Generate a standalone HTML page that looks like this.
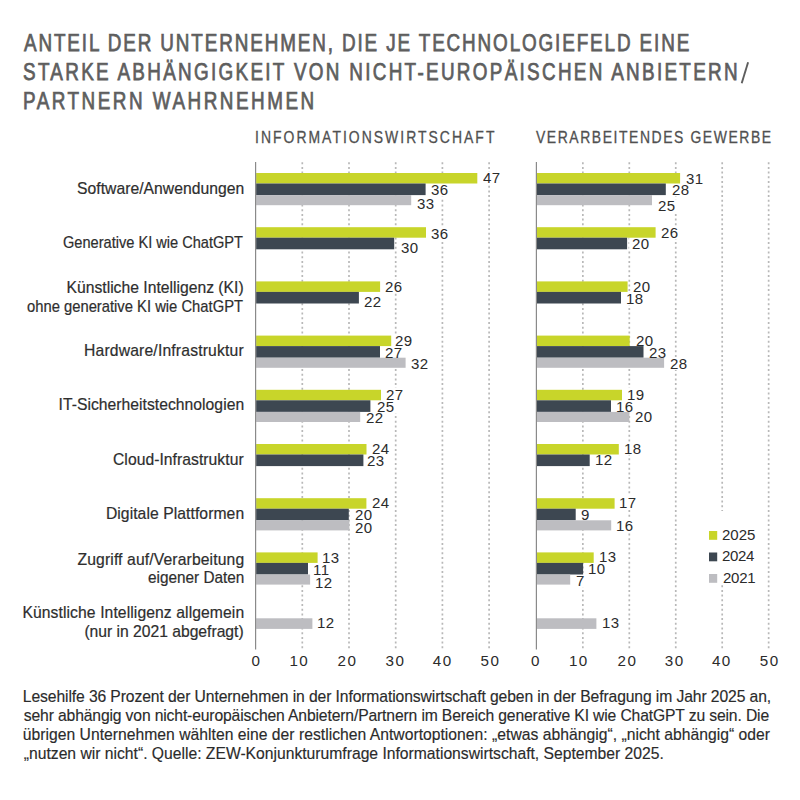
<!DOCTYPE html><html><head><meta charset="utf-8"><style>
html,body{margin:0;padding:0;background:#fff;}
body{width:800px;height:800px;position:relative;overflow:hidden;font-family:"Liberation Sans", sans-serif;}
.t{position:absolute;white-space:nowrap;}
</style></head><body>
<svg width="800" height="800" style="position:absolute;left:0;top:0">
<line x1="302.30" y1="162.2" x2="302.30" y2="650" stroke="#b8b8b8" stroke-width="1.7" stroke-dasharray="2 2.7"/>
<line x1="349.00" y1="162.2" x2="349.00" y2="650" stroke="#b8b8b8" stroke-width="1.7" stroke-dasharray="2 2.7"/>
<line x1="395.70" y1="162.2" x2="395.70" y2="650" stroke="#b8b8b8" stroke-width="1.7" stroke-dasharray="2 2.7"/>
<line x1="442.40" y1="162.2" x2="442.40" y2="650" stroke="#b8b8b8" stroke-width="1.7" stroke-dasharray="2 2.7"/>
<line x1="489.10" y1="162.2" x2="489.10" y2="650" stroke="#b8b8b8" stroke-width="1.7" stroke-dasharray="2 2.7"/>
<line x1="582.85" y1="162.2" x2="582.85" y2="650" stroke="#b8b8b8" stroke-width="1.7" stroke-dasharray="2 2.7"/>
<line x1="629.30" y1="162.2" x2="629.30" y2="650" stroke="#b8b8b8" stroke-width="1.7" stroke-dasharray="2 2.7"/>
<line x1="675.75" y1="162.2" x2="675.75" y2="650" stroke="#b8b8b8" stroke-width="1.7" stroke-dasharray="2 2.7"/>
<line x1="722.20" y1="162.2" x2="722.20" y2="650" stroke="#b8b8b8" stroke-width="1.7" stroke-dasharray="2 2.7"/>
<line x1="768.65" y1="162.2" x2="768.65" y2="650" stroke="#b8b8b8" stroke-width="1.7" stroke-dasharray="2 2.7"/>
<rect x="480.50" y="171.50" width="23.40" height="13" fill="#fff"/>
<rect x="428.90" y="183.70" width="23.40" height="13" fill="#fff"/>
<rect x="414.90" y="196.90" width="23.40" height="13" fill="#fff"/>
<rect x="428.80" y="226.90" width="23.40" height="13" fill="#fff"/>
<rect x="398.50" y="241.70" width="23.40" height="13" fill="#fff"/>
<rect x="382.70" y="280.00" width="23.40" height="13" fill="#fff"/>
<rect x="362.00" y="295.40" width="23.40" height="13" fill="#fff"/>
<rect x="392.90" y="334.10" width="23.40" height="13" fill="#fff"/>
<rect x="382.70" y="346.50" width="23.40" height="13" fill="#fff"/>
<rect x="408.80" y="357.00" width="23.40" height="13" fill="#fff"/>
<rect x="383.30" y="388.00" width="23.40" height="13" fill="#fff"/>
<rect x="374.20" y="400.00" width="23.40" height="13" fill="#fff"/>
<rect x="363.50" y="411.20" width="23.40" height="13" fill="#fff"/>
<rect x="369.10" y="442.00" width="23.40" height="13" fill="#fff"/>
<rect x="364.80" y="454.20" width="23.40" height="13" fill="#fff"/>
<rect x="369.80" y="496.30" width="23.40" height="13" fill="#fff"/>
<rect x="352.20" y="508.50" width="23.40" height="13" fill="#fff"/>
<rect x="352.20" y="521.70" width="23.40" height="13" fill="#fff"/>
<rect x="320.30" y="551.00" width="23.40" height="13" fill="#fff"/>
<rect x="311.80" y="563.20" width="23.40" height="13" fill="#fff"/>
<rect x="313.30" y="576.70" width="23.40" height="13" fill="#fff"/>
<rect x="315.50" y="616.30" width="23.40" height="13" fill="#fff"/>
<rect x="683.90" y="172.00" width="23.40" height="13" fill="#fff"/>
<rect x="669.60" y="183.50" width="23.40" height="13" fill="#fff"/>
<rect x="655.80" y="199.70" width="23.40" height="13" fill="#fff"/>
<rect x="658.60" y="226.30" width="23.40" height="13" fill="#fff"/>
<rect x="629.20" y="237.60" width="23.40" height="13" fill="#fff"/>
<rect x="631.00" y="280.00" width="23.40" height="13" fill="#fff"/>
<rect x="624.60" y="292.10" width="23.40" height="13" fill="#fff"/>
<rect x="633.10" y="334.10" width="23.40" height="13" fill="#fff"/>
<rect x="646.70" y="345.90" width="23.40" height="13" fill="#fff"/>
<rect x="667.50" y="357.00" width="23.40" height="13" fill="#fff"/>
<rect x="625.20" y="388.00" width="23.40" height="13" fill="#fff"/>
<rect x="614.50" y="399.80" width="23.40" height="13" fill="#fff"/>
<rect x="632.80" y="410.50" width="23.40" height="13" fill="#fff"/>
<rect x="622.20" y="441.80" width="23.40" height="13" fill="#fff"/>
<rect x="593.30" y="453.70" width="23.40" height="13" fill="#fff"/>
<rect x="617.30" y="495.90" width="23.40" height="13" fill="#fff"/>
<rect x="578.40" y="508.50" width="15.20" height="13" fill="#fff"/>
<rect x="614.50" y="518.90" width="23.40" height="13" fill="#fff"/>
<rect x="597.10" y="550.40" width="23.40" height="13" fill="#fff"/>
<rect x="586.50" y="561.80" width="23.40" height="13" fill="#fff"/>
<rect x="573.30" y="574.50" width="15.20" height="13" fill="#fff"/>
<rect x="600.20" y="616.00" width="23.40" height="13" fill="#fff"/>
<rect x="256.10" y="173.00" width="221.20" height="10.50" fill="#c8d52a"/>
<rect x="256.10" y="183.50" width="169.50" height="11.60" fill="#3d4751"/>
<rect x="256.10" y="195.10" width="155.10" height="10.10" fill="#bdbdc1"/>
<rect x="256.10" y="227.20" width="169.90" height="10.50" fill="#c8d52a"/>
<rect x="256.10" y="237.70" width="138.10" height="11.60" fill="#3d4751"/>
<rect x="256.10" y="281.40" width="124.00" height="10.50" fill="#c8d52a"/>
<rect x="256.10" y="291.90" width="102.80" height="11.60" fill="#3d4751"/>
<rect x="256.10" y="335.60" width="135.10" height="10.50" fill="#c8d52a"/>
<rect x="256.10" y="346.10" width="123.90" height="11.60" fill="#3d4751"/>
<rect x="256.10" y="357.70" width="149.50" height="10.10" fill="#bdbdc1"/>
<rect x="256.10" y="389.80" width="124.90" height="10.50" fill="#c8d52a"/>
<rect x="256.10" y="400.30" width="114.30" height="11.60" fill="#3d4751"/>
<rect x="256.10" y="411.90" width="104.10" height="10.10" fill="#bdbdc1"/>
<rect x="256.10" y="444.00" width="110.40" height="10.50" fill="#c8d52a"/>
<rect x="256.10" y="454.50" width="107.30" height="11.60" fill="#3d4751"/>
<rect x="256.10" y="498.20" width="110.30" height="10.50" fill="#c8d52a"/>
<rect x="256.10" y="508.70" width="92.70" height="11.60" fill="#3d4751"/>
<rect x="256.10" y="520.30" width="93.30" height="10.10" fill="#bdbdc1"/>
<rect x="256.10" y="552.40" width="61.50" height="10.50" fill="#c8d52a"/>
<rect x="256.10" y="562.90" width="51.90" height="11.60" fill="#3d4751"/>
<rect x="256.10" y="574.50" width="54.00" height="10.10" fill="#bdbdc1"/>
<rect x="256.10" y="618.30" width="56.30" height="10.60" fill="#bdbdc1"/>
<rect x="536.90" y="173.00" width="143.20" height="10.50" fill="#c8d52a"/>
<rect x="536.90" y="183.50" width="128.90" height="11.60" fill="#3d4751"/>
<rect x="536.90" y="195.10" width="115.10" height="10.10" fill="#bdbdc1"/>
<rect x="536.90" y="227.20" width="118.70" height="10.50" fill="#c8d52a"/>
<rect x="536.90" y="237.70" width="90.20" height="11.60" fill="#3d4751"/>
<rect x="536.90" y="281.40" width="90.70" height="10.50" fill="#c8d52a"/>
<rect x="536.90" y="291.90" width="84.10" height="11.60" fill="#3d4751"/>
<rect x="536.90" y="335.60" width="92.80" height="10.50" fill="#c8d52a"/>
<rect x="536.90" y="346.10" width="106.60" height="11.60" fill="#3d4751"/>
<rect x="536.90" y="357.70" width="127.20" height="10.10" fill="#bdbdc1"/>
<rect x="536.90" y="389.80" width="85.10" height="10.50" fill="#c8d52a"/>
<rect x="536.90" y="400.30" width="74.10" height="11.60" fill="#3d4751"/>
<rect x="536.90" y="411.90" width="92.50" height="10.10" fill="#bdbdc1"/>
<rect x="536.90" y="444.00" width="81.90" height="10.50" fill="#c8d52a"/>
<rect x="536.90" y="454.50" width="52.80" height="11.60" fill="#3d4751"/>
<rect x="536.90" y="498.20" width="77.70" height="10.50" fill="#c8d52a"/>
<rect x="536.90" y="508.70" width="38.80" height="11.60" fill="#3d4751"/>
<rect x="536.90" y="520.30" width="74.30" height="10.10" fill="#bdbdc1"/>
<rect x="536.90" y="552.40" width="56.80" height="10.50" fill="#c8d52a"/>
<rect x="536.90" y="562.90" width="46.20" height="11.60" fill="#3d4751"/>
<rect x="536.90" y="574.50" width="33.30" height="10.10" fill="#bdbdc1"/>
<rect x="536.90" y="618.30" width="59.50" height="10.60" fill="#bdbdc1"/>
<line x1="255.60" y1="162" x2="255.60" y2="649.5" stroke="#8a8a8a" stroke-width="1.2"/>
<line x1="536.40" y1="162" x2="536.40" y2="649.5" stroke="#8a8a8a" stroke-width="1.2"/>
<line x1="741.7" y1="83.2" x2="748.1" y2="62.3" stroke="#5e5e5e" stroke-width="1.9"/>
<rect x="704" y="511" width="58" height="72" fill="#fff"/>
<rect x="709" y="531.00" width="8.2" height="8.8" fill="#c8d52a"/>
<rect x="709" y="552.50" width="8.2" height="8.8" fill="#3d4751"/>
<rect x="709" y="574.00" width="8.2" height="8.8" fill="#bdbdc1"/>
</svg>
<div class="t" id="t1" style="left:23.50px;top:32.33px;font-size:23.0px;line-height:23.0px;color:#5e5e5e;letter-spacing:2.295px;transform:scaleX(0.82);transform-origin:0 0;-webkit-text-stroke:0.75px #5e5e5e;">ANTEIL DER UNTERNEHMEN, DIE JE TECHNOLOGIEFELD EINE</div>
<div class="t" id="t2" style="left:22.68px;top:61.33px;font-size:23.0px;line-height:23.0px;color:#5e5e5e;letter-spacing:2.821px;transform:scaleX(0.82);transform-origin:0 0;-webkit-text-stroke:0.75px #5e5e5e;">STARKE ABHÄNGIGKEIT VON NICHT-EUROPÄISCHEN ANBIETERN</div>
<div class="t" id="t3" style="left:22.68px;top:90.03px;font-size:23.0px;line-height:23.0px;color:#5e5e5e;letter-spacing:3.066px;transform:scaleX(0.82);transform-origin:0 0;-webkit-text-stroke:0.75px #5e5e5e;">PARTNERN WAHRNEHMEN</div>
<div class="t" id="s1" style="left:255.41px;top:129.55px;font-size:16.6px;line-height:16.6px;color:#505050;letter-spacing:2.407px;transform:scaleX(0.84);transform-origin:0 0;-webkit-text-stroke:0.3px #505050;">INFORMATIONSWIRTSCHAFT</div>
<div class="t" id="s2" style="left:536.25px;top:129.55px;font-size:16.6px;line-height:16.6px;color:#505050;letter-spacing:1.865px;transform:scaleX(0.84);transform-origin:0 0;-webkit-text-stroke:0.3px #505050;">VERARBEITENDES GEWERBE</div>
<div class="t" id="c1" style="left:77.00px;top:181.06px;font-size:15.7px;line-height:15.7px;color:#2e2e2e;letter-spacing:0.029px;-webkit-text-stroke:0.2px #2e2e2e;">Software/Anwendungen</div>
<div class="t" id="c2" style="left:63.00px;top:234.81px;font-size:15.7px;line-height:15.7px;color:#2e2e2e;letter-spacing:0.000px;transform:scaleX(0.9300130675601987);transform-origin:0 0;-webkit-text-stroke:0.2px #2e2e2e;">Generative KI wie ChatGPT</div>
<div class="t" id="c3a" style="left:66.50px;top:280.31px;font-size:15.7px;line-height:15.7px;color:#2e2e2e;letter-spacing:0.005px;-webkit-text-stroke:0.2px #2e2e2e;">Künstliche Intelligenz (KI)</div>
<div class="t" id="c3b" style="left:27.00px;top:298.56px;font-size:15.7px;line-height:15.7px;color:#2e2e2e;letter-spacing:0.000px;transform:scaleX(0.9418719688165917);transform-origin:0 0;-webkit-text-stroke:0.2px #2e2e2e;">ohne generative KI wie ChatGPT</div>
<div class="t" id="c4" style="left:84.00px;top:343.06px;font-size:15.7px;line-height:15.7px;color:#2e2e2e;letter-spacing:0.170px;-webkit-text-stroke:0.2px #2e2e2e;">Hardware/Infrastruktur</div>
<div class="t" id="c5" style="left:58.50px;top:397.31px;font-size:15.7px;line-height:15.7px;color:#2e2e2e;letter-spacing:0.030px;-webkit-text-stroke:0.2px #2e2e2e;">IT-Sicherheitstechnologien</div>
<div class="t" id="c6" style="left:113.00px;top:451.56px;font-size:15.7px;line-height:15.7px;color:#2e2e2e;letter-spacing:0.040px;-webkit-text-stroke:0.2px #2e2e2e;">Cloud-Infrastruktur</div>
<div class="t" id="c7" style="left:105.90px;top:506.06px;font-size:15.7px;line-height:15.7px;color:#2e2e2e;letter-spacing:0.070px;-webkit-text-stroke:0.2px #2e2e2e;">Digitale Plattformen</div>
<div class="t" id="c8a" style="left:77.50px;top:552.31px;font-size:15.7px;line-height:15.7px;color:#2e2e2e;letter-spacing:0.129px;-webkit-text-stroke:0.2px #2e2e2e;">Zugriff auf/Verarbeitung</div>
<div class="t" id="c8b" style="left:147.80px;top:570.41px;font-size:15.7px;line-height:15.7px;color:#2e2e2e;letter-spacing:0.000px;transform:scaleX(0.9772274389268101);transform-origin:0 0;-webkit-text-stroke:0.2px #2e2e2e;">eigener Daten</div>
<div class="t" id="c9a" style="left:22.40px;top:605.41px;font-size:15.7px;line-height:15.7px;color:#2e2e2e;letter-spacing:0.092px;-webkit-text-stroke:0.2px #2e2e2e;">Künstliche Intelligenz allgemein</div>
<div class="t" id="c9b" style="left:84.40px;top:623.56px;font-size:15.7px;line-height:15.7px;color:#2e2e2e;letter-spacing:-0.017px;-webkit-text-stroke:0.2px #2e2e2e;">(nur in 2021 abgefragt)</div>
<div class="t" id="f1" style="left:22.80px;top:689.21px;font-size:15.7px;line-height:15.7px;color:#2b2b2b;letter-spacing:-0.107px;-webkit-text-stroke:0.15px #2b2b2b;">Lesehilfe 36 Prozent der Unternehmen in der Informationswirtschaft geben in der Befragung im Jahr 2025 an,</div>
<div class="t" id="f2" style="left:23.80px;top:707.91px;font-size:15.7px;line-height:15.7px;color:#2b2b2b;letter-spacing:-0.142px;-webkit-text-stroke:0.15px #2b2b2b;">sehr abhängig von nicht-europäischen Anbietern/Partnern im Bereich generative KI wie ChatGPT zu sein. Die</div>
<div class="t" id="f3" style="left:22.80px;top:727.11px;font-size:15.7px;line-height:15.7px;color:#2b2b2b;letter-spacing:0.015px;-webkit-text-stroke:0.15px #2b2b2b;">übrigen Unternehmen wählten eine der restlichen Antwortoptionen: „etwas abhängig“, „nicht abhängig“ oder</div>
<div class="t" id="f4" style="left:23.80px;top:745.51px;font-size:15.7px;line-height:15.7px;color:#2b2b2b;letter-spacing:-0.006px;-webkit-text-stroke:0.15px #2b2b2b;">„nutzen wir nicht“. Quelle: ZEW-Konjunkturumfrage Informationswirtschaft, September 2025.</div>
<div class="t" id="x0" style="left:251.40px;top:652.63px;font-size:15.2px;line-height:15.2px;color:#2b2b2b;letter-spacing:1.500px;">0</div>
<div class="t" id="x1" style="left:289.40px;top:652.63px;font-size:15.2px;line-height:15.2px;color:#2b2b2b;letter-spacing:1.500px;">10</div>
<div class="t" id="x2" style="left:337.50px;top:652.63px;font-size:15.2px;line-height:15.2px;color:#2b2b2b;letter-spacing:1.500px;">20</div>
<div class="t" id="x3" style="left:385.60px;top:652.63px;font-size:15.2px;line-height:15.2px;color:#2b2b2b;letter-spacing:1.500px;">30</div>
<div class="t" id="x4" style="left:432.70px;top:652.63px;font-size:15.2px;line-height:15.2px;color:#2b2b2b;letter-spacing:1.500px;">40</div>
<div class="t" id="x5" style="left:480.50px;top:652.63px;font-size:15.2px;line-height:15.2px;color:#2b2b2b;letter-spacing:1.500px;">50</div>
<div class="t" id="x6" style="left:531.00px;top:652.63px;font-size:15.2px;line-height:15.2px;color:#2b2b2b;letter-spacing:1.500px;">0</div>
<div class="t" id="x7" style="left:568.90px;top:652.63px;font-size:15.2px;line-height:15.2px;color:#2b2b2b;letter-spacing:1.500px;">10</div>
<div class="t" id="x8" style="left:617.60px;top:652.63px;font-size:15.2px;line-height:15.2px;color:#2b2b2b;letter-spacing:1.500px;">20</div>
<div class="t" id="x9" style="left:664.80px;top:652.63px;font-size:15.2px;line-height:15.2px;color:#2b2b2b;letter-spacing:1.500px;">30</div>
<div class="t" id="x10" style="left:711.90px;top:652.63px;font-size:15.2px;line-height:15.2px;color:#2b2b2b;letter-spacing:1.500px;">40</div>
<div class="t" id="x11" style="left:759.70px;top:652.63px;font-size:15.2px;line-height:15.2px;color:#2b2b2b;letter-spacing:1.500px;">50</div>
<div class="t" id="v0" style="left:482.90px;top:170.21px;font-size:15.5px;line-height:15.5px;color:#2b2b2b;letter-spacing:0.400px;transform:scaleX(0.97);transform-origin:0 0;">47</div>
<div class="t" id="v1" style="left:431.30px;top:182.41px;font-size:15.5px;line-height:15.5px;color:#2b2b2b;letter-spacing:0.400px;transform:scaleX(0.97);transform-origin:0 0;">36</div>
<div class="t" id="v2" style="left:417.30px;top:195.61px;font-size:15.5px;line-height:15.5px;color:#2b2b2b;letter-spacing:0.400px;transform:scaleX(0.97);transform-origin:0 0;">33</div>
<div class="t" id="v3" style="left:431.20px;top:225.61px;font-size:15.5px;line-height:15.5px;color:#2b2b2b;letter-spacing:0.400px;transform:scaleX(0.97);transform-origin:0 0;">36</div>
<div class="t" id="v4" style="left:400.90px;top:240.41px;font-size:15.5px;line-height:15.5px;color:#2b2b2b;letter-spacing:0.400px;transform:scaleX(0.97);transform-origin:0 0;">30</div>
<div class="t" id="v5" style="left:385.10px;top:278.71px;font-size:15.5px;line-height:15.5px;color:#2b2b2b;letter-spacing:0.400px;transform:scaleX(0.97);transform-origin:0 0;">26</div>
<div class="t" id="v6" style="left:364.40px;top:294.11px;font-size:15.5px;line-height:15.5px;color:#2b2b2b;letter-spacing:0.400px;transform:scaleX(0.97);transform-origin:0 0;">22</div>
<div class="t" id="v7" style="left:395.30px;top:332.81px;font-size:15.5px;line-height:15.5px;color:#2b2b2b;letter-spacing:0.400px;transform:scaleX(0.97);transform-origin:0 0;">29</div>
<div class="t" id="v8" style="left:385.10px;top:345.21px;font-size:15.5px;line-height:15.5px;color:#2b2b2b;letter-spacing:0.400px;transform:scaleX(0.97);transform-origin:0 0;">27</div>
<div class="t" id="v9" style="left:411.20px;top:355.71px;font-size:15.5px;line-height:15.5px;color:#2b2b2b;letter-spacing:0.400px;transform:scaleX(0.97);transform-origin:0 0;">32</div>
<div class="t" id="v10" style="left:385.70px;top:386.71px;font-size:15.5px;line-height:15.5px;color:#2b2b2b;letter-spacing:0.400px;transform:scaleX(0.97);transform-origin:0 0;">27</div>
<div class="t" id="v11" style="left:376.60px;top:398.71px;font-size:15.5px;line-height:15.5px;color:#2b2b2b;letter-spacing:0.400px;transform:scaleX(0.97);transform-origin:0 0;">25</div>
<div class="t" id="v12" style="left:365.90px;top:409.91px;font-size:15.5px;line-height:15.5px;color:#2b2b2b;letter-spacing:0.400px;transform:scaleX(0.97);transform-origin:0 0;">22</div>
<div class="t" id="v13" style="left:371.50px;top:440.71px;font-size:15.5px;line-height:15.5px;color:#2b2b2b;letter-spacing:0.400px;transform:scaleX(0.97);transform-origin:0 0;">24</div>
<div class="t" id="v14" style="left:367.20px;top:452.91px;font-size:15.5px;line-height:15.5px;color:#2b2b2b;letter-spacing:0.400px;transform:scaleX(0.97);transform-origin:0 0;">23</div>
<div class="t" id="v15" style="left:372.20px;top:495.01px;font-size:15.5px;line-height:15.5px;color:#2b2b2b;letter-spacing:0.400px;transform:scaleX(0.97);transform-origin:0 0;">24</div>
<div class="t" id="v16" style="left:354.60px;top:507.21px;font-size:15.5px;line-height:15.5px;color:#2b2b2b;letter-spacing:0.400px;transform:scaleX(0.97);transform-origin:0 0;">20</div>
<div class="t" id="v17" style="left:354.60px;top:520.41px;font-size:15.5px;line-height:15.5px;color:#2b2b2b;letter-spacing:0.400px;transform:scaleX(0.97);transform-origin:0 0;">20</div>
<div class="t" id="v18" style="left:321.73px;top:549.71px;font-size:15.5px;line-height:15.5px;color:#2b2b2b;letter-spacing:0.400px;transform:scaleX(0.97);transform-origin:0 0;">13</div>
<div class="t" id="v19" style="left:313.23px;top:561.91px;font-size:15.5px;line-height:15.5px;color:#2b2b2b;letter-spacing:0.400px;transform:scaleX(0.97);transform-origin:0 0;">11</div>
<div class="t" id="v20" style="left:314.73px;top:575.41px;font-size:15.5px;line-height:15.5px;color:#2b2b2b;letter-spacing:0.400px;transform:scaleX(0.97);transform-origin:0 0;">12</div>
<div class="t" id="v21" style="left:316.93px;top:615.01px;font-size:15.5px;line-height:15.5px;color:#2b2b2b;letter-spacing:0.400px;transform:scaleX(0.97);transform-origin:0 0;">12</div>
<div class="t" id="v22" style="left:686.30px;top:170.71px;font-size:15.5px;line-height:15.5px;color:#2b2b2b;letter-spacing:0.400px;transform:scaleX(0.97);transform-origin:0 0;">31</div>
<div class="t" id="v23" style="left:672.00px;top:182.21px;font-size:15.5px;line-height:15.5px;color:#2b2b2b;letter-spacing:0.400px;transform:scaleX(0.97);transform-origin:0 0;">28</div>
<div class="t" id="v24" style="left:658.20px;top:198.41px;font-size:15.5px;line-height:15.5px;color:#2b2b2b;letter-spacing:0.400px;transform:scaleX(0.97);transform-origin:0 0;">25</div>
<div class="t" id="v25" style="left:661.00px;top:225.01px;font-size:15.5px;line-height:15.5px;color:#2b2b2b;letter-spacing:0.400px;transform:scaleX(0.97);transform-origin:0 0;">26</div>
<div class="t" id="v26" style="left:631.60px;top:236.31px;font-size:15.5px;line-height:15.5px;color:#2b2b2b;letter-spacing:0.400px;transform:scaleX(0.97);transform-origin:0 0;">20</div>
<div class="t" id="v27" style="left:633.40px;top:278.71px;font-size:15.5px;line-height:15.5px;color:#2b2b2b;letter-spacing:0.400px;transform:scaleX(0.97);transform-origin:0 0;">20</div>
<div class="t" id="v28" style="left:626.03px;top:290.81px;font-size:15.5px;line-height:15.5px;color:#2b2b2b;letter-spacing:0.400px;transform:scaleX(0.97);transform-origin:0 0;">18</div>
<div class="t" id="v29" style="left:635.50px;top:332.81px;font-size:15.5px;line-height:15.5px;color:#2b2b2b;letter-spacing:0.400px;transform:scaleX(0.97);transform-origin:0 0;">20</div>
<div class="t" id="v30" style="left:649.10px;top:344.61px;font-size:15.5px;line-height:15.5px;color:#2b2b2b;letter-spacing:0.400px;transform:scaleX(0.97);transform-origin:0 0;">23</div>
<div class="t" id="v31" style="left:669.90px;top:355.71px;font-size:15.5px;line-height:15.5px;color:#2b2b2b;letter-spacing:0.400px;transform:scaleX(0.97);transform-origin:0 0;">28</div>
<div class="t" id="v32" style="left:626.63px;top:386.71px;font-size:15.5px;line-height:15.5px;color:#2b2b2b;letter-spacing:0.400px;transform:scaleX(0.97);transform-origin:0 0;">19</div>
<div class="t" id="v33" style="left:615.93px;top:398.51px;font-size:15.5px;line-height:15.5px;color:#2b2b2b;letter-spacing:0.400px;transform:scaleX(0.97);transform-origin:0 0;">16</div>
<div class="t" id="v34" style="left:635.20px;top:409.21px;font-size:15.5px;line-height:15.5px;color:#2b2b2b;letter-spacing:0.400px;transform:scaleX(0.97);transform-origin:0 0;">20</div>
<div class="t" id="v35" style="left:623.63px;top:440.51px;font-size:15.5px;line-height:15.5px;color:#2b2b2b;letter-spacing:0.400px;transform:scaleX(0.97);transform-origin:0 0;">18</div>
<div class="t" id="v36" style="left:594.73px;top:452.41px;font-size:15.5px;line-height:15.5px;color:#2b2b2b;letter-spacing:0.400px;transform:scaleX(0.97);transform-origin:0 0;">12</div>
<div class="t" id="v37" style="left:618.73px;top:494.61px;font-size:15.5px;line-height:15.5px;color:#2b2b2b;letter-spacing:0.400px;transform:scaleX(0.97);transform-origin:0 0;">17</div>
<div class="t" id="v38" style="left:580.80px;top:507.21px;font-size:15.5px;line-height:15.5px;color:#2b2b2b;letter-spacing:0.400px;transform:scaleX(0.97);transform-origin:0 0;">9</div>
<div class="t" id="v39" style="left:615.93px;top:517.61px;font-size:15.5px;line-height:15.5px;color:#2b2b2b;letter-spacing:0.400px;transform:scaleX(0.97);transform-origin:0 0;">16</div>
<div class="t" id="v40" style="left:598.53px;top:549.11px;font-size:15.5px;line-height:15.5px;color:#2b2b2b;letter-spacing:0.400px;transform:scaleX(0.97);transform-origin:0 0;">13</div>
<div class="t" id="v41" style="left:587.93px;top:560.51px;font-size:15.5px;line-height:15.5px;color:#2b2b2b;letter-spacing:0.400px;transform:scaleX(0.97);transform-origin:0 0;">10</div>
<div class="t" id="v42" style="left:575.70px;top:573.21px;font-size:15.5px;line-height:15.5px;color:#2b2b2b;letter-spacing:0.400px;transform:scaleX(0.97);transform-origin:0 0;">7</div>
<div class="t" id="v43" style="left:601.63px;top:614.71px;font-size:15.5px;line-height:15.5px;color:#2b2b2b;letter-spacing:0.400px;transform:scaleX(0.97);transform-origin:0 0;">13</div>
<div class="t" id="lg0" style="left:722.00px;top:526.78px;font-size:15.5px;line-height:15.5px;color:#2b2b2b;letter-spacing:-0.016px;transform:scaleX(0.97);transform-origin:0 0;">2025</div>
<div class="t" id="lg1" style="left:722.00px;top:548.28px;font-size:15.5px;line-height:15.5px;color:#2b2b2b;letter-spacing:-0.349px;transform:scaleX(0.97);transform-origin:0 0;">2024</div>
<div class="t" id="lg2" style="left:722.80px;top:569.78px;font-size:15.5px;line-height:15.5px;color:#2b2b2b;letter-spacing:-0.290px;transform:scaleX(0.97);transform-origin:0 0;">2021</div>
</body></html>
